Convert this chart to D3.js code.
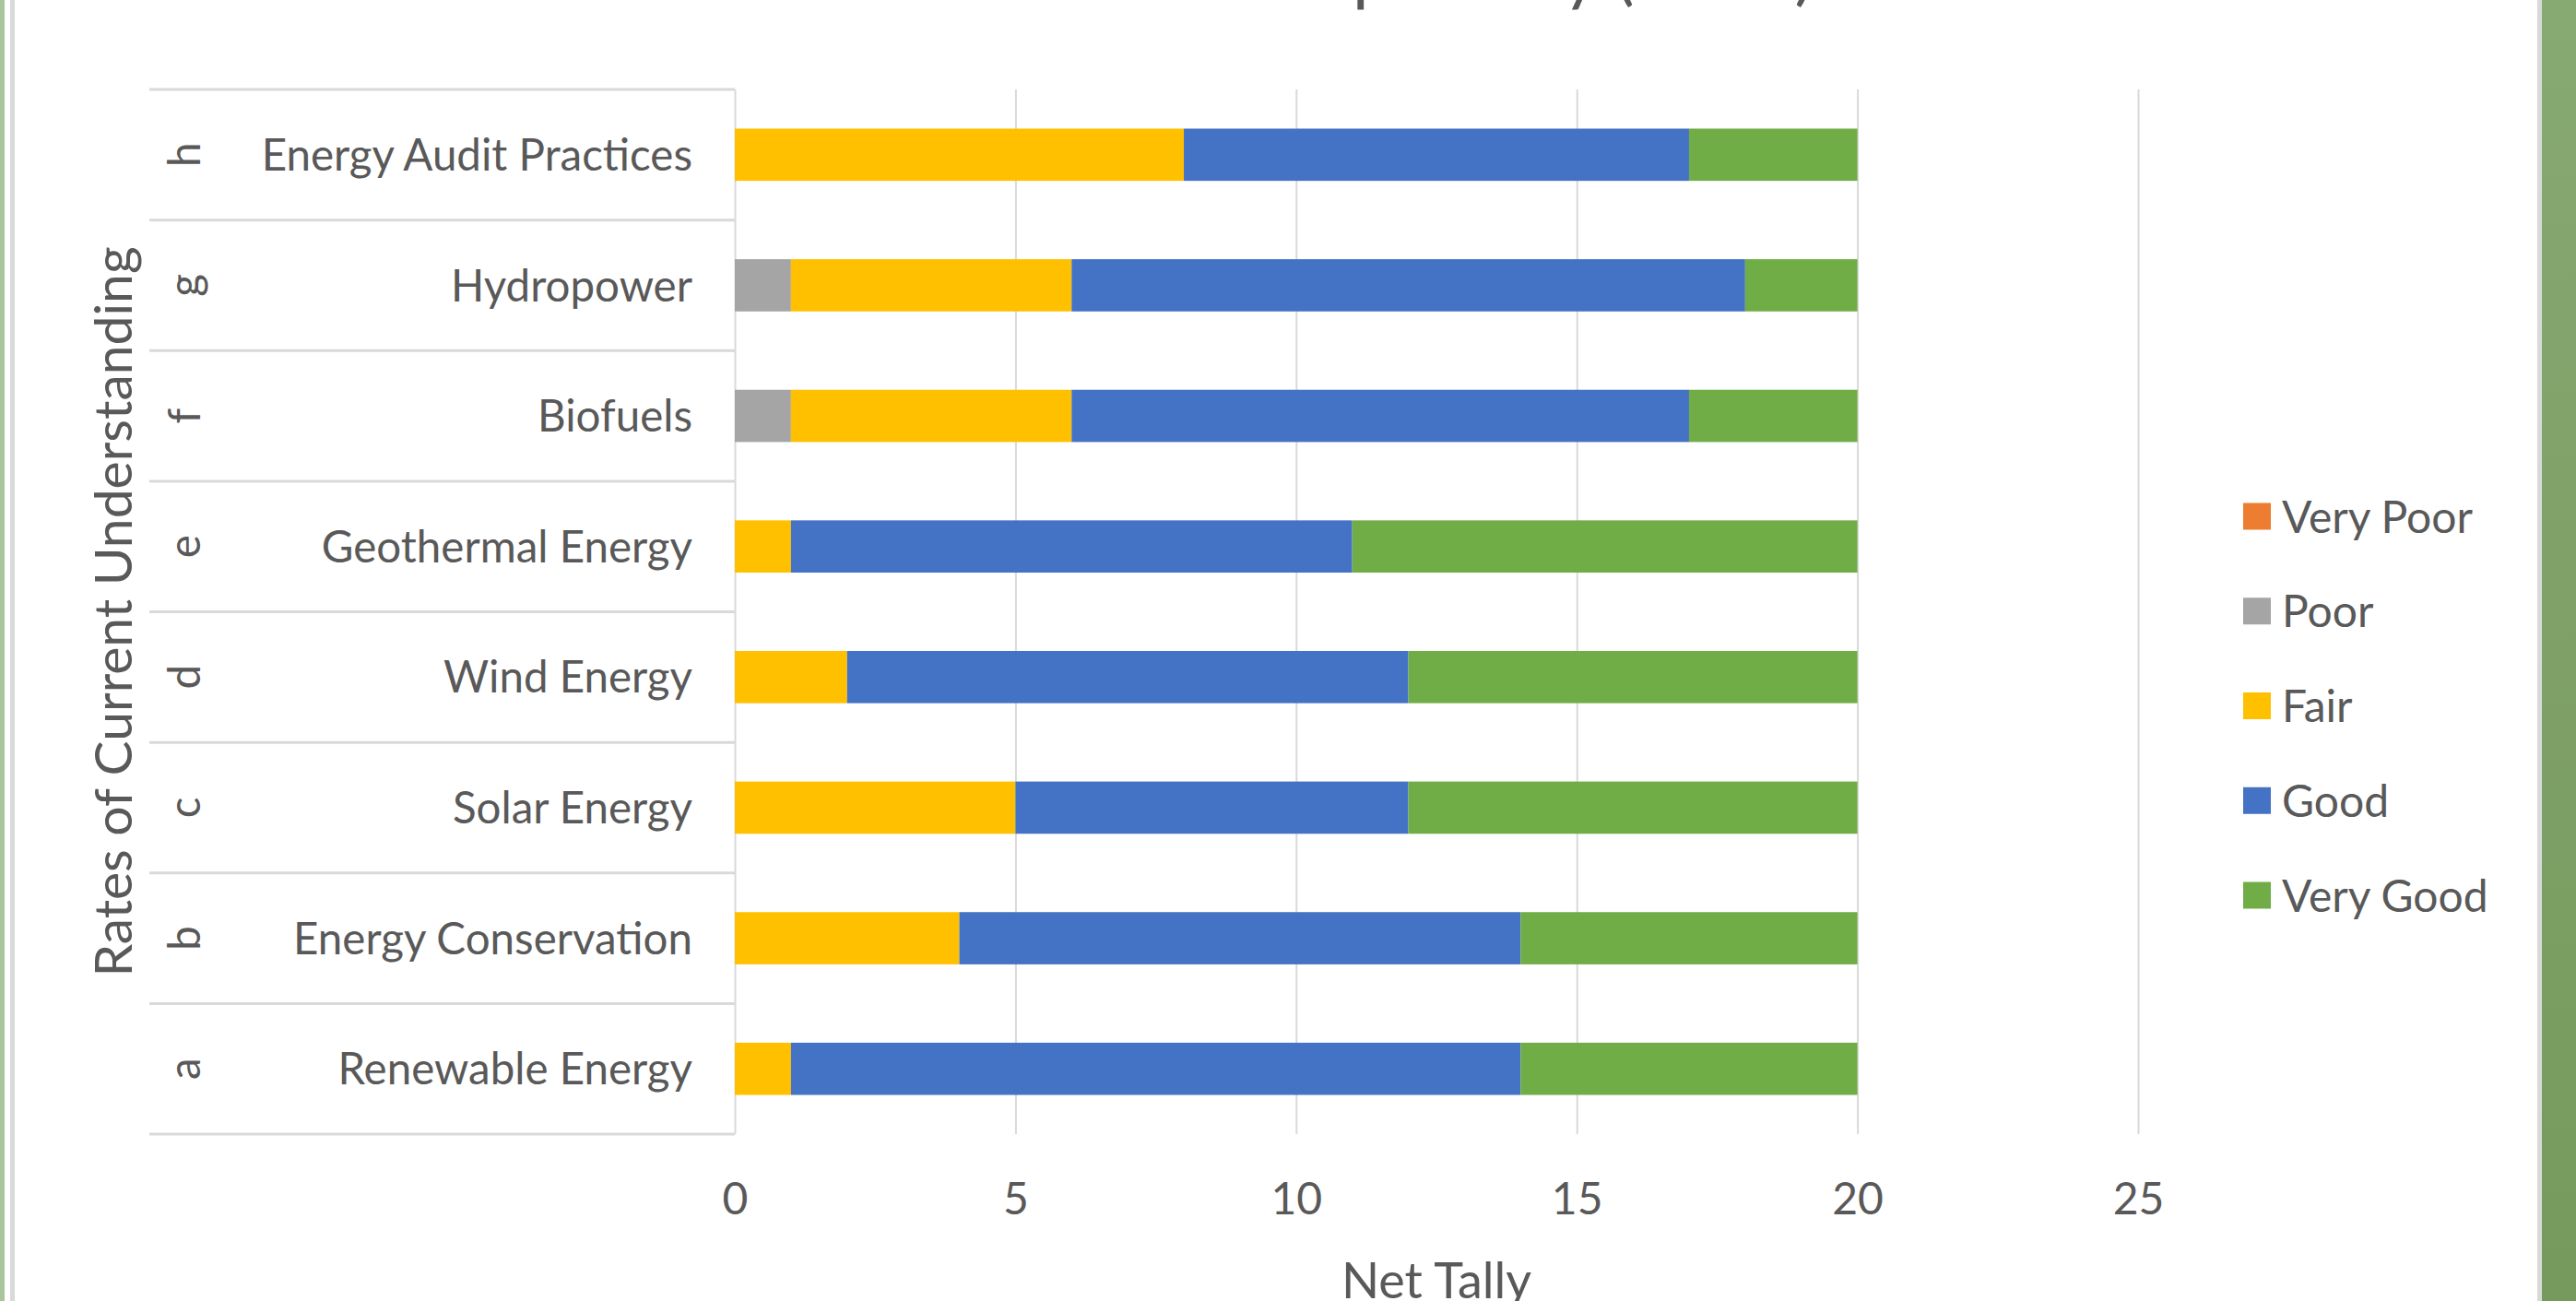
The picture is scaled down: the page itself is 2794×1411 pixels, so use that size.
<!DOCTYPE html>
<html>
<head>
<meta charset="utf-8">
<script src="https://cdn.jsdelivr.net/npm/d3@7"></script>
<style>
  html, body { margin: 0; padding: 0; background: #ffffff; overflow: hidden; }
  svg { display: block; }
</style>
</head>
<body>
<svg id="chart" width="2794" height="1411"></svg>
<script>
// ---------- DATA ----------
const categories = ["Renewable Energy", "Energy Conservation", "Solar Energy", "Wind Energy",
                    "Geothermal Energy", "Biofuels", "Hydropower", "Energy Audit Practices"];
const groupLetters = ["a", "b", "c", "d", "e", "f", "g", "h"];
const seriesNames = ["Very Poor", "Poor", "Fair", "Good", "Very Good"];
const veryPoor = [0, 0, 0, 0, 0, 0, 0, 0];
const poor     = [0, 0, 0, 0, 0, 1, 1, 0];
const fair     = [1, 4, 5, 2, 1, 5, 5, 8];
const good     = [13, 10, 7, 10, 10, 11, 12, 9];
const veryGood = [6, 6, 8, 8, 9, 3, 2, 3];
const xTicks = [0, 5, 10, 15, 20, 25];
const seriesColors = ["#ED7D31", "#A5A5A5", "#FFC000", "#4472C4", "#70AD47"];
const chartTitle = "Self-Assessed Competency (n=20)";
const xTitle = "Net Tally";
const yTitle = "Rates of Current Understanding";

// ---------- LAYOUT ----------
const W = 2794, H = 1411;
const plot = { left: 797, right: 2319, top: 97, bottom: 1230 };
const tableLeft = 162;
const textColor = "#595959";
const gridColor = "#d9d9d9";
const font = "Lato, 'Open Sans', sans-serif";

const svg = d3.select("#chart");

// frame decorations (slide border strips)
const defs = svg.append("defs");
const grad = defs.append("linearGradient").attr("id", "rightStrip")
  .attr("x1", 0).attr("y1", 0).attr("x2", 0).attr("y2", 1);
grad.append("stop").attr("offset", "0%").attr("stop-color", "#87a972");
grad.append("stop").attr("offset", "100%").attr("stop-color", "#76995d");

svg.append("rect").attr("x", 0).attr("y", 0).attr("width", 5).attr("height", H).attr("fill", "#a9c59b");
svg.append("rect").attr("x", 11).attr("y", 0).attr("width", 5).attr("height", H).attr("fill", "#d9d9d9");
svg.append("rect").attr("x", 2752).attr("y", 0).attr("width", 5).attr("height", H).attr("fill", "#d9d9d9");
svg.append("rect").attr("x", 2757).attr("y", 0).attr("width", W - 2757).attr("height", H).attr("fill", "url(#rightStrip)");

// ---------- SCALES ----------
const x = d3.scaleLinear().domain([0, 25]).range([plot.left, plot.right]);
const y = d3.scaleBand().domain(categories).range([plot.bottom, plot.top])
  .paddingInner(0.6).paddingOuter(0.3);
const color = d3.scaleOrdinal().domain(seriesNames).range(seriesColors);

// ---------- GRIDLINES ----------
const gridG = svg.append("g").attr("transform", `translate(0,${plot.bottom})`)
  .call(d3.axisBottom(x).tickValues(xTicks).tickSize(-(plot.bottom - plot.top)).tickFormat(""));
gridG.select(".domain").remove();
gridG.selectAll(".tick line").attr("stroke", gridColor).attr("stroke-width", 2);

// category table separators
const step = y.step();
const slotTop = c => y(c) - step * y.paddingOuter();
const sepYs = categories.map(c => slotTop(c) + step).concat([slotTop(categories[categories.length - 1])]);
svg.append("g").selectAll("line").data(sepYs).join("line")
  .attr("x1", tableLeft).attr("x2", x(0))
  .attr("y1", d => d).attr("y2", d => d)
  .attr("stroke", gridColor).attr("stroke-width", 3);

// ---------- BARS ----------
const table = categories.map((c, i) => ({
  category: c,
  "Very Poor": veryPoor[i], "Poor": poor[i], "Fair": fair[i], "Good": good[i], "Very Good": veryGood[i]
}));
const stacked = d3.stack().keys(seriesNames)(table);

svg.append("g").selectAll("g").data(stacked).join("g")
  .attr("fill", d => color(d.key))
  .selectAll("rect").data(d => d.filter(p => p[1] - p[0] > 0)).join("rect")
  .attr("x", d => x(d[0]))
  .attr("width", d => x(d[1]) - x(d[0]))
  .attr("y", d => y(d.data.category))
  .attr("height", y.bandwidth());

// ---------- CATEGORY LABELS ----------
const labelSize = 47.5;
svg.append("g").selectAll("text").data(categories).join("text")
  .attr("x", 751)
  .attr("y", c => y(c) + y.bandwidth() / 2 + labelSize * 0.36)
  .attr("text-anchor", "end")
  .attr("font-family", font).attr("font-size", labelSize).attr("fill", textColor)
  .text(c => c);

svg.append("g").selectAll("text").data(categories).join("text")
  .attr("transform", (c) => `translate(217,${y(c) + y.bandwidth() / 2}) rotate(-90)`)
  .attr("text-anchor", "middle")
  .attr("font-family", font).attr("font-size", labelSize).attr("fill", textColor)
  .text((c, i) => groupLetters[i]);

// ---------- X AXIS LABELS ----------
const xAxisG = svg.append("g").attr("transform", `translate(0,1317)`)
  .call(d3.axisBottom(x).tickValues(xTicks).tickSize(0).tickPadding(0));
xAxisG.select(".domain").remove();
xAxisG.selectAll("text")
  .attr("dy", null).attr("y", 0)
  .attr("font-family", font).attr("font-size", 48).attr("fill", textColor);

svg.append("text")
  .attr("x", (plot.left + plot.right) / 2).attr("y", 1408)
  .attr("text-anchor", "middle")
  .attr("font-family", font).attr("font-size", 54).attr("fill", textColor)
  .text(xTitle);

svg.append("text")
  .attr("transform", `translate(143,${(plot.top + plot.bottom) / 2}) rotate(-90)`)
  .attr("text-anchor", "middle")
  .attr("font-family", font).attr("font-size", 57).attr("fill", textColor)
  .text(yTitle);

// ---------- TITLE (mostly cut off at top) ----------
svg.append("text")
  .attr("x", 1400).attr("y", -3)
  .attr("text-anchor", "middle")
  .attr("font-family", font).attr("font-size", 76).attr("fill", textColor)
  .text(chartTitle);

// ---------- LEGEND ----------
const legendTop = 560, legendStep = 102.75;
const lg = svg.append("g").selectAll("g").data(seriesNames).join("g")
  .attr("transform", (d, i) => `translate(2433,${legendTop + i * legendStep})`);
lg.append("rect").attr("x", 0).attr("y", -14.5).attr("width", 30).attr("height", 29)
  .attr("fill", d => color(d));
lg.append("text").attr("x", 42).attr("y", 17.5)
  .attr("font-family", font).attr("font-size", 48).attr("fill", textColor)
  .text(d => d);
</script>
</body>
</html>
